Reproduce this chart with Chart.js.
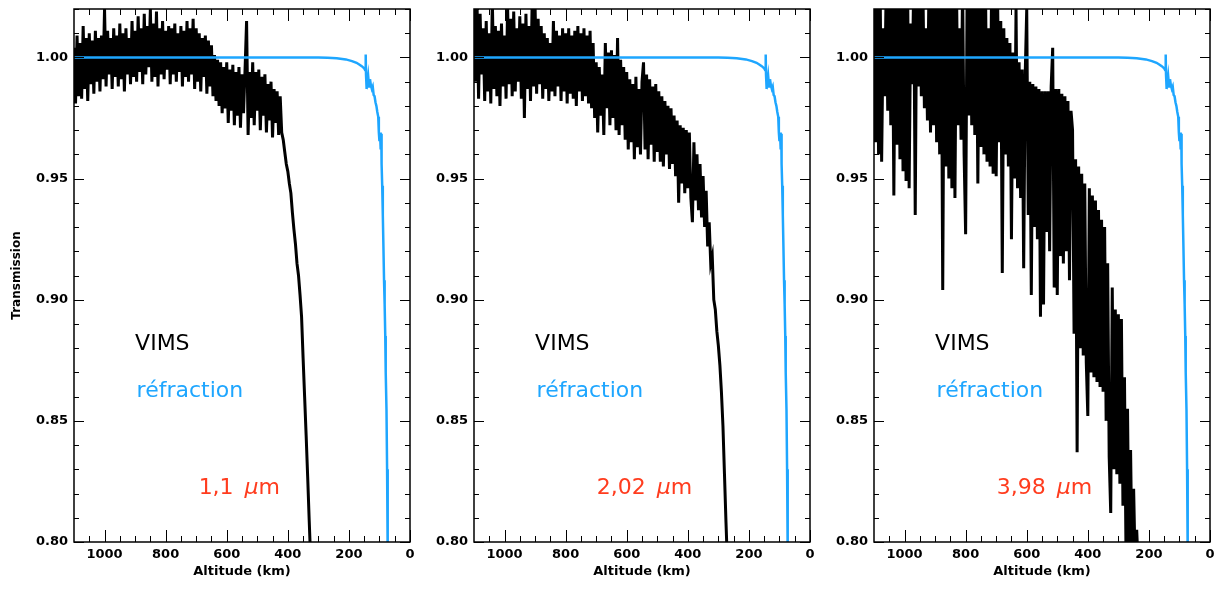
<!DOCTYPE html>
<html>
<head>
<meta charset="utf-8">
<script src="https://cdn.jsdelivr.net/npm/chart.js@4.4.0/dist/chart.umd.min.js"></script>
<style>
  html, body { margin: 0; padding: 0; background: #fff; }
  #wrap { position: relative; width: 1220px; height: 590px; overflow: hidden; }
  canvas { position: absolute; top: 0; }
</style>
</head>
<body>
<div id="wrap">
  <canvas id="c1" width="420" height="590" style="left:0px"></canvas>
  <canvas id="c2" width="420" height="590" style="left:400px"></canvas>
  <canvas id="c3" width="420" height="590" style="left:800px"></canvas>
</div>
<script>
// axes
const altTicks = [0, 200, 400, 600, 800, 1000];
const transTicks = [0.80, 0.85, 0.90, 0.95, 1.00];
const wavelengths = ['1,1', '2,02', '3,98'];

// courbe de réfraction (identique pour les 3 longueurs d'onde)
const refrAlt = [1100, 300, 270, 240, 210, 190, 175, 165, 158, 150,
  147, 145, 144, 143, 141, 139, 137, 134, 131, 128,
  125, 122, 119, 116, 113, 110, 107, 104, 102, 100,
  98, 96, 94, 93, 91, 89, 87, 85, 83, 81,
  80, 79, 77, 75, 73];
const refrT = [1.0000, 1.0000, 0.9999, 0.9997, 0.9992, 0.9985, 0.9978, 0.9970, 0.9964, 0.9955,
  0.9948, 1.0012, 0.9930, 0.9870, 0.9935, 0.9905, 0.9925, 0.9880, 0.9910, 0.9885,
  0.9870, 0.9880, 0.9845, 0.9840, 0.9815, 0.9800, 0.9775, 0.9755, 0.9690, 0.9655,
  0.9690, 0.9620, 0.9685, 0.9560, 0.9470, 0.9350, 0.9220, 0.9080, 0.8980, 0.8850,
  0.8720, 0.8700, 0.8550, 0.8300, 0.7950];

// VIMS : altitudes de 1100 km vers le bas, pas de 5 km
const vimsStart = 1100;
const vimsStep = 5;

// 1,1 µm
const vimsT1 = [
  1.004, 0.981, 1.009, 0.984, 1.006, 0.983, 1.013, 0.987, 1.008, 0.982,
  1.010, 0.989, 1.007, 0.985, 1.011, 0.990, 1.008, 0.986, 1.009, 0.991,
  1.020, 0.988, 1.011, 0.993, 1.008, 0.987, 1.012, 0.992, 1.009, 0.988,
  1.014, 0.991, 1.010, 0.986, 1.012, 0.993, 1.008, 0.989, 1.015, 0.992,
  1.011, 0.990, 1.017, 0.994, 1.012, 0.989, 1.018, 0.993, 1.013, 0.996,
  1.020, 0.990, 1.014, 0.992, 1.019, 0.988, 1.012, 0.993, 1.015, 0.991,
  1.011, 0.995, 1.013, 0.989, 1.012, 0.993, 1.014, 0.990, 1.010, 0.994,
  1.013, 0.988, 1.011, 0.992, 1.015, 0.990, 1.012, 0.993, 1.016, 0.987,
  1.012, 0.990, 1.010, 0.986, 1.008, 0.992, 1.009, 0.985, 1.007, 0.988,
  1.005, 0.984, 1.001, 0.982, 0.999, 0.980, 0.998, 0.977, 0.996, 0.979,
  0.998, 0.973, 0.995, 0.978, 0.997, 0.972, 0.994, 0.976, 0.996, 0.971,
  0.993, 0.977, 0.995, 1.015, 0.968, 0.994, 0.975, 0.998, 0.972, 0.994,
  0.978, 0.995, 0.970, 0.992, 0.976, 0.993, 0.969, 0.989, 0.974, 0.990,
  0.967, 0.987, 0.973, 0.986, 0.968, 0.984, 0.969, 0.966, 0.961, 0.956,
  0.953, 0.948, 0.944, 0.936, 0.929, 0.923, 0.915, 0.910, 0.902, 0.893,
  0.876, 0.860, 0.844, 0.827, 0.809, 0.792
];

// 2,02 µm
const vimsT2 = [
  1.025, 0.990, 1.022, 0.983, 1.018, 0.993, 1.012, 0.982, 1.015, 0.986,
  1.010, 0.981, 1.024, 0.987, 1.013, 0.984, 1.011, 0.980, 1.014, 0.988,
  1.009, 0.983, 1.021, 0.989, 1.016, 0.984, 1.019, 0.986, 1.012, 0.990,
  1.017, 0.983, 1.014, 0.975, 1.018, 0.987, 1.013, 0.982, 1.020, 0.988,
  1.021, 0.985, 1.016, 0.989, 1.013, 0.983, 1.010, 0.987, 1.008, 0.982,
  1.006, 0.986, 1.015, 0.984, 1.011, 0.988, 1.009, 0.982, 1.012, 0.986,
  1.010, 0.981, 1.012, 0.985, 1.009, 0.983, 1.011, 0.980, 1.013, 0.986,
  1.010, 0.982, 1.012, 0.984, 1.009, 0.981, 1.011, 0.979, 1.006, 0.975,
  0.998, 0.969, 0.996, 0.976, 0.993, 0.968, 1.006, 0.979, 1.002, 0.972,
  1.003, 0.975, 1.001, 0.970, 1.008, 0.968, 0.999, 0.972, 0.996, 0.966,
  0.994, 0.962, 0.991, 0.965, 0.989, 0.958, 0.992, 0.963, 0.987, 0.960,
  0.990, 0.998, 0.962, 0.993, 0.958, 0.991, 0.964, 0.988, 0.957, 0.989,
  0.961, 0.986, 0.957, 0.984, 0.955, 0.982, 0.960, 0.980, 0.954, 0.979,
  0.956, 0.976, 0.951, 0.974, 0.940, 0.972, 0.948, 0.971, 0.944, 0.970,
  0.946, 0.969, 0.942, 0.932, 0.965, 0.941, 0.960, 0.937, 0.956, 0.934,
  0.951, 0.930, 0.945, 0.922, 0.932, 0.915, 0.918, 0.900, 0.896, 0.887,
  0.881, 0.873, 0.862, 0.848, 0.828, 0.808, 0.790
];

// 3,98 µm
const vimsT3 = [
  1.030, 0.965, 1.030, 0.960, 1.030, 0.957, 1.012, 0.984, 1.030, 0.978,
  1.030, 0.972, 1.030, 0.943, 1.030, 0.964, 1.030, 0.958, 1.030, 0.953,
  1.030, 0.949, 1.030, 0.946, 1.014, 0.989, 1.030, 0.935, 1.030, 0.988,
  1.030, 0.984, 1.030, 0.979, 1.012, 0.974, 1.030, 0.969, 1.030, 0.972,
  1.030, 0.965, 1.030, 0.960, 1.030, 0.904, 1.030, 0.955, 1.030, 0.950,
  1.030, 0.946, 1.030, 0.942, 1.030, 0.972, 1.012, 0.966, 1.030, 0.960,
  0.927, 1.030, 0.976, 1.030, 0.972, 1.030, 0.968, 1.030, 0.948, 1.030,
  0.963, 1.030, 0.960, 1.030, 0.957, 1.012, 0.955, 1.030, 0.952, 1.030,
  0.951, 1.020, 0.965, 1.015, 0.911, 1.012, 0.960, 1.008, 0.955, 1.006,
  0.925, 1.002, 0.950, 1.020, 0.946, 0.998, 0.942, 0.995, 0.913, 0.993,
  1.020, 0.935, 0.990, 0.902, 0.989, 0.930, 0.988, 0.925, 0.987, 0.893,
  0.986, 0.898, 0.986, 0.928, 0.986, 0.920, 0.988, 1.004, 0.905, 0.987,
  0.902, 0.987, 0.918, 0.985, 0.915, 0.984, 0.920, 0.982, 0.908, 0.978,
  0.970, 0.886, 0.958, 0.837, 0.955, 0.880, 0.952, 0.877, 0.948, 0.874,
  0.852, 0.946, 0.870, 0.943, 0.868, 0.941, 0.866, 0.937, 0.864, 0.933,
  0.862, 0.930, 0.850, 0.915, 0.835, 0.812, 0.905, 0.830, 0.896, 0.828,
  0.894, 0.824, 0.892, 0.815, 0.868, 0.795, 0.855, 0.790, 0.838, 0.790,
  0.822, 0.790, 0.805, 0.790
];

const vimsSeries = [vimsT1, vimsT2, vimsT3];

// position des textes (en km / transmission)
const textVims = [900, 0.8793];
const textRefr = [895, 0.860];
const textWave = [[692, 0.8198], [698, 0.8198], [698, 0.8198]];

const BLUE = '#1ea6ff';
const RED = '#ff3c1e';

function toPoints(alts, vals) {
    return vals.map((v, i) => ({ x: alts[i], y: v }));
}

function vimsPoints(vals) {
    return vals.map((v, i) => ({ x: vimsStart - i * vimsStep, y: v }));
}

// cadre + graduations vers l'intérieur (style IDL)
const frameTicks = {
    id: 'frameTicks',
    afterDatasetsDraw(chart) {
        const { ctx, chartArea: a, scales: { x, y } } = chart;
        ctx.save();
        ctx.strokeStyle = '#000';
        ctx.lineWidth = 1;
        ctx.beginPath();
        for (let v = 0; v < 1100; v += 50) {
            const px = Math.round(x.getPixelForValue(v)) + 0.5;
            const len = v % 200 === 0 ? 12 : 6;
            ctx.moveTo(px, a.bottom); ctx.lineTo(px, a.bottom - len);
            ctx.moveTo(px, a.top); ctx.lineTo(px, a.top + len);
        }
        for (let i = 80; i <= 102; i++) {
            const py = Math.round(y.getPixelForValue(i / 100)) + 0.5;
            const len = i % 5 === 0 ? 10 : 5;
            ctx.moveTo(a.left, py); ctx.lineTo(a.left + len, py);
            ctx.moveTo(a.right, py); ctx.lineTo(a.right - len, py);
        }
        ctx.stroke();
        ctx.lineWidth = 1.5;
        ctx.strokeRect(a.left, a.top, a.right - a.left, a.bottom - a.top);
        ctx.restore();
    }
};

// textes VIMS / réfraction / longueur d'onde
const panelText = {
    id: 'panelText',
    afterDraw(chart, args, opts) {
        const { ctx, scales: { x, y } } = chart;
        ctx.save();
        ctx.textBaseline = 'alphabetic';
        ctx.textAlign = 'left';
        ctx.font = '22px "DejaVu Sans"';
        ctx.fillStyle = '#000';
        ctx.fillText('VIMS', x.getPixelForValue(textVims[0]), y.getPixelForValue(textVims[1]));
        ctx.fillStyle = BLUE;
        ctx.fillText('réfraction', x.getPixelForValue(textRefr[0]), y.getPixelForValue(textRefr[1]));
        ctx.fillStyle = RED;
        let px = x.getPixelForValue(opts.pos[0]);
        const py = y.getPixelForValue(opts.pos[1]);
        ctx.fillText(opts.wave, px, py);
        px += ctx.measureText(opts.wave).width + 11;
        ctx.font = 'italic 22px "DejaVu Sans"';
        ctx.fillText('μ', px, py);
        px += ctx.measureText('μ').width;
        ctx.font = '22px "DejaVu Sans"';
        ctx.fillText('m', px, py);
        ctx.restore();
    }
};

const tickFont = { family: 'DejaVu Sans', size: 13, weight: 'bold' };
const xTitleFont = { family: 'DejaVu Sans', size: 13, weight: 'bold' };
const yTitleFont = { family: 'DejaVu Sans', size: 12, weight: 'bold' };

function makePanel(id, idx) {
    new Chart(document.getElementById(id), {
        type: 'line',
        data: {
            datasets: [
                {
                    label: 'réfraction',
                    data: toPoints(refrAlt, refrT),
                    borderColor: BLUE,
                    borderWidth: 2.5,
                    pointRadius: 0,
                    tension: 0
                },
                {
                    label: 'VIMS',
                    data: vimsPoints(vimsSeries[idx]),
                    borderColor: '#000',
                    borderWidth: 3,
                    pointRadius: 0,
                    tension: 0
                }
            ]
        },
        options: {
            responsive: false,
            animation: false,
            events: [],
            layout: { padding: { left: 0, right: 10, top: 9, bottom: 0 } },
            plugins: {
                legend: { display: false },
                tooltip: { enabled: false },
                panelText: { wave: wavelengths[idx], pos: textWave[idx] }
            },
            scales: {
                x: {
                    type: 'linear',
                    reverse: true,
                    min: 0,
                    max: 1100,
                    afterBuildTicks: s => { s.ticks = altTicks.map(v => ({ value: v })); },
                    afterFit: s => { s.height = 48; s.paddingLeft = 0; s.paddingRight = 0; },
                    grid: { display: false, drawTicks: false },
                    border: { display: false },
                    ticks: {
                        color: '#000', font: tickFont, padding: 5,
                        maxRotation: 0, autoSkip: false,
                        callback: v => String(v)
                    },
                    title: {
                        display: true, text: 'Altitude (km)', color: '#000',
                        font: xTitleFont, padding: { top: 0, bottom: 11 }
                    }
                },
                y: {
                    type: 'linear',
                    min: 0.80,
                    max: 1.02,
                    afterBuildTicks: s => { s.ticks = transTicks.map(v => ({ value: v })); },
                    afterFit: s => { s.width = 74; s.paddingTop = 0; s.paddingBottom = 0; },
                    grid: { display: false, drawTicks: false },
                    border: { display: false },
                    ticks: {
                        color: '#000', font: tickFont, padding: 6,
                        callback: v => v.toFixed(2)
                    },
                    title: {
                        display: idx === 0, text: 'Transmission', color: '#000',
                        font: yTitleFont, padding: { top: 10, bottom: 0 }
                    }
                }
            }
        },
        plugins: [frameTicks, panelText]
    });
}

makePanel('c1', 0);
makePanel('c2', 1);
makePanel('c3', 2);
</script>
</body>
</html>
